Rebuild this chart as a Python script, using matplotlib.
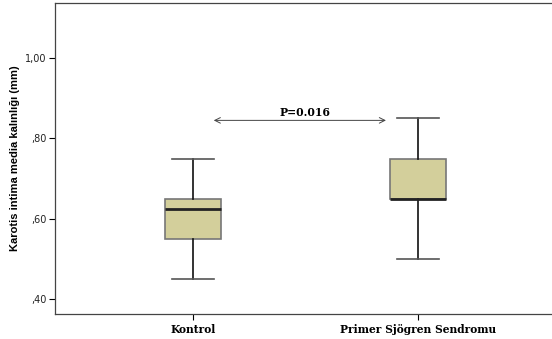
import matplotlib.pyplot as plt

groups = ["Kontrol", "Primer Sjögren Sendromu"]
whislo = [0.45, 0.50]
q1 = [0.55, 0.65]
med = [0.625, 0.65]
q3 = [0.65, 0.75]
whishi = [0.75, 0.85]
yticks = [0.40, 0.60, 0.80, 1.00]
ytick_labels = [",40", ",60", ",80", "1,00"]
p_text = "P=0.016"

fig = plt.figure(figsize=(5.52, 3.39), dpi=100)
ax = fig.add_axes([55/552, 25/339, 1 - 55/552 + 0.01, 311/339])

stats = []
for i in range(len(groups)):
    stats.append(dict(label=groups[i], whislo=whislo[i], q1=q1[i], med=med[i],
                      q3=q3[i], whishi=whishi[i], fliers=[]))

ax.bxp(stats, positions=[1, 2], widths=0.25, patch_artist=True, showfliers=False,
       boxprops=dict(facecolor="#d3cf9b", edgecolor="#777777", linewidth=1.2),
       medianprops=dict(color="#222222", linewidth=2),
       whiskerprops=dict(color="#111111", linewidth=1.2),
       capprops=dict(color="#555555", linewidth=1.2),
       capwidths=0.19)

ax.set_xlim(0.387, 2.62)
ax.set_ylim(0.3625, 1.1375)
ax.set_yticks(yticks)
ax.set_yticklabels(ytick_labels, fontsize=7, color="#222222")
ax.set_xticks([1, 2])
ax.set_xticklabels(groups, family="DejaVu Serif", fontweight="bold", fontsize=7.7)
ax.tick_params(axis="y", length=4, width=0.8, pad=2)
ax.tick_params(axis="x", length=4, width=0.8, pad=3)
ax.set_ylabel("Karotis intima media kalınlığı (mm)", fontsize=8, fontweight="bold",
              family="Liberation Sans", labelpad=4)
for s in ["left", "bottom", "top"]:
    ax.spines[s].set_color("#444444")
    ax.spines[s].set_linewidth(0.9)
ax.spines["right"].set_visible(False)

ax.annotate("", xy=(1.08, 0.845), xytext=(1.87, 0.845),
            arrowprops=dict(arrowstyle="<->", color="#444444", lw=0.7))
ax.text(1.5, 0.852, p_text, ha="center", va="bottom", family="DejaVu Serif",
        fontweight="bold", fontsize=7.8)

fig.savefig("out.png", dpi=100)
